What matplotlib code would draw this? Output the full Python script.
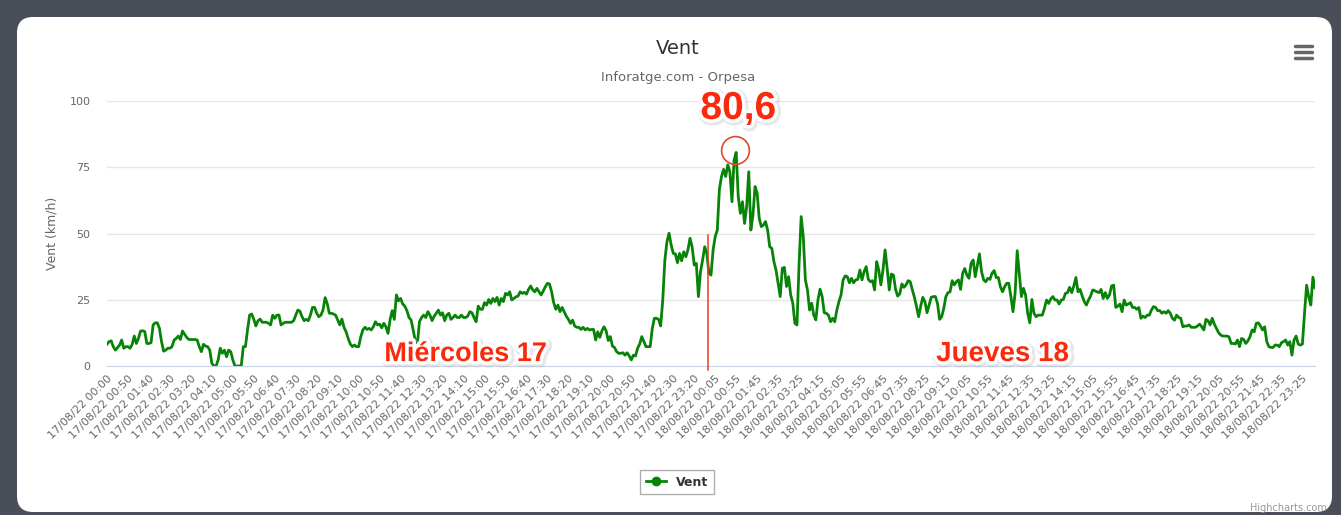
import matplotlib
matplotlib.use('Agg')
import matplotlib.pyplot as plt
import matplotlib.patheffects as pe
from matplotlib.patches import FancyBboxPatch
from matplotlib.lines import Line2D
from matplotlib.transforms import IdentityTransform
import pandas as pd

# wind speed (km/h), one value every 5 minutes
vent = [
    8.2, 9.2, 9.5, 7.3, 6.0, 6.9, 7.9, 9.8, 6.7, 7.3,
    7.3, 6.7, 8.2, 11.3, 8.5, 10.4, 13.2, 13.3, 13.0, 8.5,
    8.5, 8.8, 15.5, 16.3, 16.3, 14.2, 9.2, 5.6, 6.0, 6.7,
    6.7, 7.3, 9.8, 10.4, 11.3, 10.0, 13.2, 12.0, 10.8, 10.0,
    10.0, 10.0, 10.0, 9.8, 7.3, 5.4, 8.2, 7.5, 7.3, 6.0,
    1.0, 0.0, 0.0, 2.3, 6.7, 4.8, 6.0, 3.5, 6.0, 5.4,
    2.3, 0.0, 0.0, 0.0, 0.0, 7.3, 7.3, 13.6, 19.2, 19.6,
    17.6, 15.1, 17.1, 17.7, 16.5, 16.5, 16.5, 16.1, 15.5, 19.2,
    18.0, 19.2, 19.2, 15.5, 16.1, 16.5, 16.5, 16.5, 16.5, 17.1,
    19.2, 21.1, 20.7, 18.6, 17.1, 17.6, 17.1, 19.2, 22.1, 22.1,
    19.9, 18.6, 19.2, 21.1, 25.8, 23.6, 19.9, 19.9, 19.6, 19.2,
    17.4, 15.5, 17.7, 14.6, 12.9, 10.4, 8.3, 7.3, 7.9, 7.3,
    7.3, 11.0, 13.6, 14.6, 13.8, 14.2, 13.6, 14.8, 16.7, 15.5,
    15.8, 14.4, 16.1, 14.8, 12.3, 17.6, 20.9, 17.6, 26.8, 24.6,
    25.5, 23.4, 22.6, 20.9, 18.3, 17.3, 13.6, 9.5, 8.5, 16.7,
    18.3, 19.2, 18.3, 20.5, 19.2, 17.1, 18.8, 19.9, 21.1, 19.2,
    20.1, 17.1, 19.2, 19.9, 17.6, 18.3, 19.2, 18.3, 18.3, 19.2,
    18.3, 18.3, 18.8, 20.5, 20.1, 18.3, 16.7, 22.6, 21.4, 21.4,
    23.9, 23.0, 25.1, 23.6, 25.5, 24.3, 25.9, 23.0, 25.5, 24.3,
    27.4, 26.8, 28.0, 24.9, 25.5, 26.1, 26.4, 28.0, 27.4, 27.8,
    27.1, 28.9, 30.2, 28.7, 28.0, 29.3, 28.0, 26.8, 28.3, 29.9,
    31.2, 30.9, 28.0, 23.9, 21.4, 23.0, 20.5, 22.1, 20.5, 18.8,
    17.6, 16.1, 17.3, 15.1, 14.6, 14.6, 13.8, 14.6, 13.6, 14.2,
    13.6, 13.8, 13.8, 9.8, 12.9, 10.8, 13.3, 14.8, 13.3, 9.6,
    11.1, 7.5, 7.0, 5.4, 4.8, 4.8, 5.0, 4.1, 5.0, 3.8,
    2.3, 4.1, 3.8, 6.7, 8.3, 11.1, 9.2, 7.3, 7.3, 7.3,
    14.2, 18.0, 18.0, 17.6, 15.1, 24.9, 40.0, 46.9, 50.1, 45.7,
    42.5, 42.3, 39.0, 42.5, 39.7, 43.1, 41.2, 43.8, 48.2, 45.0,
    38.1, 38.7, 26.2, 35.6, 40.0, 45.0, 42.5, 35.0, 34.3, 43.8,
    48.8, 51.3, 66.7, 71.5, 74.2, 71.5, 75.9, 73.3, 62.0, 77.7,
    80.6, 63.9, 57.6, 62.0, 53.8, 60.1, 73.3, 51.3, 57.0, 67.7,
    65.2, 55.7, 52.6, 53.2, 54.5, 51.3, 45.0, 44.4, 39.4, 36.2,
    31.2, 26.2, 36.9, 37.2, 30.0, 33.7, 26.8, 23.7, 16.1, 15.5,
    38.7, 56.4, 48.8, 32.5, 28.7, 21.1, 23.7, 19.2, 17.4, 24.9,
    29.0, 26.2, 20.1, 19.9, 19.2, 16.7, 18.0, 16.7, 21.1, 24.3,
    26.8, 32.5, 34.0, 33.7, 31.4, 33.1, 31.4, 32.5, 32.7, 36.2,
    32.5, 35.6, 37.5, 32.7, 31.8, 32.2, 28.7, 39.4, 36.2, 30.6,
    36.2, 43.8, 36.8, 28.7, 34.7, 34.3, 28.9, 26.4, 27.2, 31.0,
    29.7, 30.6, 32.2, 31.8, 28.7, 25.9, 22.4, 18.6, 22.6, 25.9,
    24.3, 20.1, 23.0, 25.9, 26.2, 26.2, 23.6, 17.6, 18.6, 21.8,
    26.2, 27.7, 28.0, 32.2, 30.6, 31.8, 32.5, 28.9, 35.0, 36.8,
    34.3, 33.1, 38.7, 40.0, 33.7, 38.1, 42.3, 35.6, 32.5, 31.8,
    33.1, 32.7, 35.0, 36.0, 33.4, 33.4, 29.9, 28.0, 29.9, 31.2,
    31.2, 26.2, 20.5, 27.4, 43.5, 35.0, 26.2, 29.3, 26.8, 19.9,
    16.3, 25.1, 19.9, 18.6, 19.2, 19.2, 19.2, 21.8, 24.9, 23.6,
    25.3, 26.2, 24.9, 24.9, 23.4, 24.9, 25.1, 27.4, 27.7, 29.7,
    27.7, 30.2, 33.4, 28.0, 28.9, 26.4, 24.3, 23.0, 24.9, 26.4,
    28.7, 28.4, 28.0, 27.7, 28.9, 25.5, 27.7, 25.5, 26.8, 30.2,
    30.5, 22.1, 22.6, 23.4, 20.5, 24.9, 23.0, 23.4, 23.9, 22.1,
    22.1, 21.4, 22.1, 18.0, 18.8, 18.3, 19.2, 19.2, 21.1, 22.4,
    22.1, 20.9, 20.9, 19.9, 20.5, 19.9, 20.9, 19.9, 18.0, 17.3,
    19.2, 18.3, 18.0, 14.8, 15.1, 15.1, 15.5, 14.6, 14.6, 14.6,
    15.1, 15.8, 14.8, 13.6, 17.6, 17.1, 15.5, 18.0, 15.8, 14.2,
    12.6, 11.7, 11.3, 11.3, 11.3, 11.0, 8.5, 8.5, 8.3, 9.8,
    7.3, 10.4, 10.0, 8.5, 9.5, 11.0, 13.6, 12.9, 16.1, 16.3,
    15.1, 13.6, 14.8, 9.2, 7.3, 7.0, 7.0, 7.9, 7.9, 7.3,
    8.8, 9.2, 9.8, 7.9, 9.2, 4.1, 9.8, 11.3, 8.3, 7.9,
    8.3, 19.9, 30.5, 26.1, 23.0, 33.5, 29.5,
]

# timestamps: 17/08 (with one extra reading before midnight) and 18/08
times = list(pd.date_range('2022-08-17 00:00', '2022-08-17 23:55', freq='5min'))
times.append(pd.Timestamp('2022-08-17 23:59'))
times += list(pd.date_range('2022-08-18 00:00', '2022-08-18 23:55', freq='5min'))
labels = [t.strftime('%d/%m/%y %H:%M') for t in times]

yticks = [0, 25, 50, 75, 100]
peak_label = '80,6'
day_labels = ['Miércoles 17', 'Jueves 18']

W, H = 1341, 515
fig = plt.figure(figsize=(W / 100, H / 100), dpi=100)
fig.patch.set_facecolor('#4a4e58')

# white card with rounded corners
card = FancyBboxPatch((17, 3), 1315, 495, boxstyle='round,pad=0,rounding_size=16',
                      transform=IdentityTransform(), facecolor='white',
                      edgecolor='none', zorder=0)
fig.add_artist(card)

ax = fig.add_axes([107 / W, 149 / H, 1208 / W, 265 / H])
ax.set_facecolor('none')
x = list(range(len(vent)))
ax.plot(x, vent, color='#078307', lw=2.0, zorder=3, solid_joinstyle='round')

ax.set_xlim(0, len(vent) - 1)
ax.set_ylim(0, 100)
ax.set_yticks(yticks)
ax.set_yticklabels([str(v) for v in yticks], color='#666666', fontsize=8)
ax.grid(axis='y', color='#e6e6e6', lw=1)
ax.set_axisbelow(True)
for s in ['top', 'right', 'left']:
    ax.spines[s].set_visible(False)
ax.spines['bottom'].set_color('#ccd6eb')
ax.tick_params(axis='y', length=0, pad=12)

xt = list(range(0, len(vent), 10))
ax.set_xticks(xt)
ax.set_xticklabels([labels[i] for i in xt], rotation=45, ha='right',
                   rotation_mode='anchor', color='#666666', fontsize=8)
ax.tick_params(axis='x', length=0, pad=5)
ax.set_ylabel('Vent (km/h)', color='#666666', fontsize=9, labelpad=8)

fig.text(678 / W, 1 - 48 / H, 'Vent', ha='center', va='center', fontsize=14, color='#333333')
fig.text(678 / W, 1 - 78 / H, 'Inforatge.com - Orpesa', ha='center', va='center',
         fontsize=9.5, color='#666666')

# legend
h = Line2D([], [], color='#078307', lw=2, marker='o', ms=6)
leg = ax.legend([h], ['Vent'], loc='center', bbox_to_anchor=(677 / W, 1 - 482 / H),
                bbox_transform=fig.transFigure, fancybox=False, edgecolor='#999999',
                prop={'weight': 'bold', 'size': 9}, handlelength=1.6, borderpad=0.45)
leg.get_texts()[0].set_color('#333333')
leg.get_frame().set_linewidth(1)

# menu icon
for yy in [46, 52, 58]:
    fig.add_artist(Line2D([1295 / W, 1312 / W], [1 - yy / H, 1 - yy / H],
                          color='#666666', lw=2.5, solid_capstyle='round'))

fig.text(1327 / W, 1 - 508 / H, 'Highcharts.com', ha='right', va='center',
         fontsize=7, color='#999999')

# red annotations
red = '#fb2a0c'
fx = [pe.Stroke(offset=(1, -1), linewidth=7, foreground='#b0b0b0', alpha=0.3),
      pe.Stroke(linewidth=5, foreground='white'), pe.Normal()]
peak_i = vent.index(max(vent))
ax.plot([peak_i - 0.5], [81.5], marker='o', ms=20, mfc='none', mec='#e8452c', mew=1.2,
        clip_on=False, zorder=5)
ax.text(peak_i + 1, 97, peak_label, ha='center', va='center', fontsize=28,
        fontweight='bold', color=red, family='Liberation Sans', path_effects=fx,
        clip_on=False, zorder=6)
ax.plot([286.8, 286.8], [49.5, -1.5], color='#f03a1e', lw=1.1, clip_on=False, zorder=4)
ax.text(171, 4.5, day_labels[0], ha='center', va='center', fontsize=19.5,
        fontweight='bold', color=red, family='Liberation Sans', path_effects=fx, zorder=6)
ax.text(427, 4.5, day_labels[1], ha='center', va='center', fontsize=20,
        fontweight='bold', color=red, family='Liberation Sans', path_effects=fx, zorder=6)

fig.savefig('out.png', dpi=100, facecolor=fig.get_facecolor())
